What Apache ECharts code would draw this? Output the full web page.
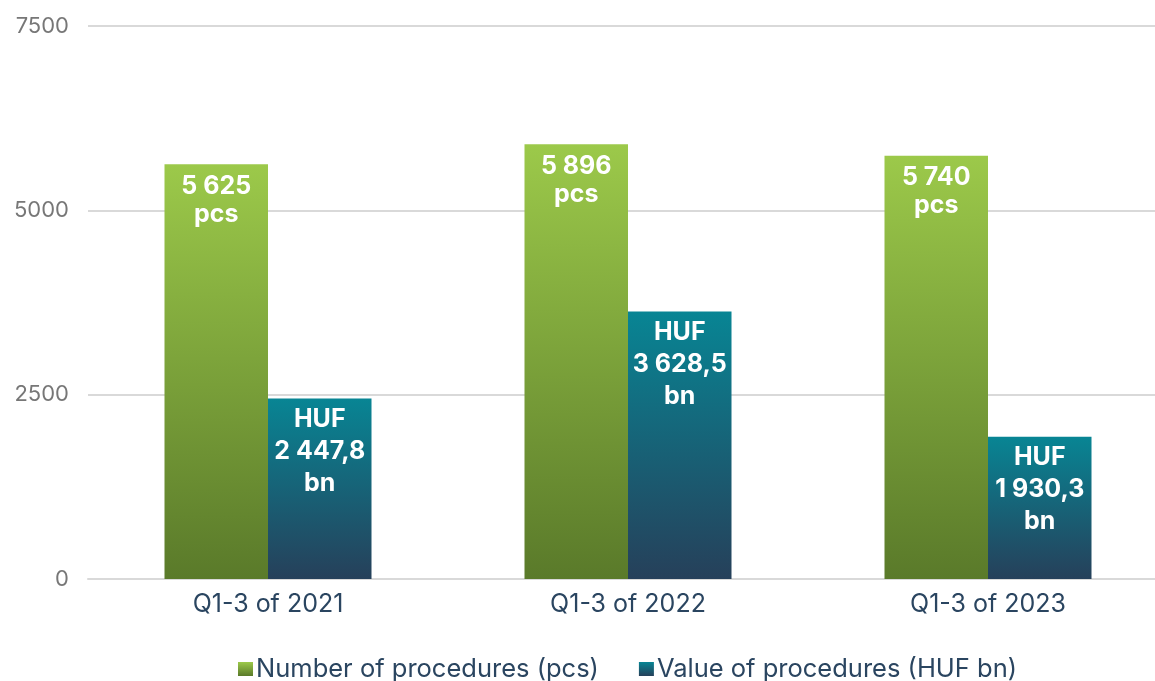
<!DOCTYPE html>
<html>
<head>
<meta charset="UTF-8">
<title></title>
<style>
	html,body{margin:0;padding:0;background:#fff}
	#chart{width:1155px;height:681px}
</style>
</head>
<body>
<div id="chart"></div>
<script src="https://cdn.jsdelivr.net/npm/echarts@6/dist/echarts.min.js"></script>
<script>
var categories = ['Q1-3 of 2021', 'Q1-3 of 2022', 'Q1-3 of 2023'];
var seriesNames = ['Number of procedures (pcs)', 'Value of procedures (HUF bn)'];
var countValues = [5625, 5896, 5740];
var valueValues = [2447.8, 3628.5, 1930.3];
var yTicks = [0, 2500, 5000, 7500];

// 5625 -> "5 625", 2447.8 -> "2 447,8"
function huNum(v, dec) {
	var s = v.toFixed(dec).split('.');
	var i = s[0].replace(/\B(?=(\d{3})+(?!\d))/g, ' ');
	return s.length > 1 ? i + ',' + s[1] : i;
}

var greenGrad = new echarts.graphic.LinearGradient(0, 0, 0, 1, [
	{offset: 0, color: '#9cc94a'},
	{offset: 1, color: '#5a7a2a'}
]);
var blueGrad = new echarts.graphic.LinearGradient(0, 0, 0, 1, [
	{offset: 0, color: '#088594'},
	{offset: 1, color: '#26405a'}
]);

var chart = echarts.init(document.getElementById('chart'));
var option = {
	animation: false,
	textStyle: {fontFamily: 'Inter'},
	legend: {
		top: 651,
		left: 233,
		itemWidth: 15,
		itemHeight: 14,
		itemGap: 40,
		icon: 'rect',
		textStyle: {fontSize: 25.5, color: '#2a4560', padding: [0, 0, 0, -2]},
		data: seriesNames
	},
	grid: {
		left: 88,
		width: 1080,
		top: 26,
		height: 553,
		outerBoundsMode: 'none'
	},
	xAxis: {
		type: 'category',
		data: categories,
		axisLine: {lineStyle: {color: '#d9d9d9', width: 2}},
		axisTick: {show: false},
		axisLabel: {fontSize: 25, color: '#2a4560', margin: 13}
	},
	yAxis: {
		type: 'value',
		min: yTicks[0],
		max: yTicks[yTicks.length - 1],
		interval: 2500,
		axisLine: {show: false},
		axisTick: {show: false},
		splitLine: {lineStyle: {color: '#d9d9d9', width: 2}},
		axisLabel: {fontSize: 22, color: '#777777', margin: 19, formatter: function (v) { return String(v); }}
	},
	series: [
		{
			name: seriesNames[0],
			type: 'bar',
			data: countValues,
			barGap: '0%',
			barCategoryGap: '42.5%',
			itemStyle: {color: greenGrad},
			label: {
				show: true,
				position: 'insideTop',
				distance: 8,
				color: '#ffffff',
				fontWeight: 'bold',
				fontSize: 25,
				lineHeight: 28,
				formatter: function (p) { return huNum(p.value, 0) + '\npcs'; }
			}
		},
		{
			name: seriesNames[1],
			type: 'bar',
			data: valueValues,
			itemStyle: {color: blueGrad},
			label: {
				show: true,
				position: 'insideTop',
				distance: 5,
				color: '#ffffff',
				fontWeight: 'bold',
				fontSize: 25,
				lineHeight: 32,
				formatter: function (p) { return 'HUF\n' + huNum(p.value, 1) + '\nbn'; }
			}
		}
	]
};
chart.setOption(option);
window.addEventListener('resize', chart.resize);
</script>
</body>
</html>
